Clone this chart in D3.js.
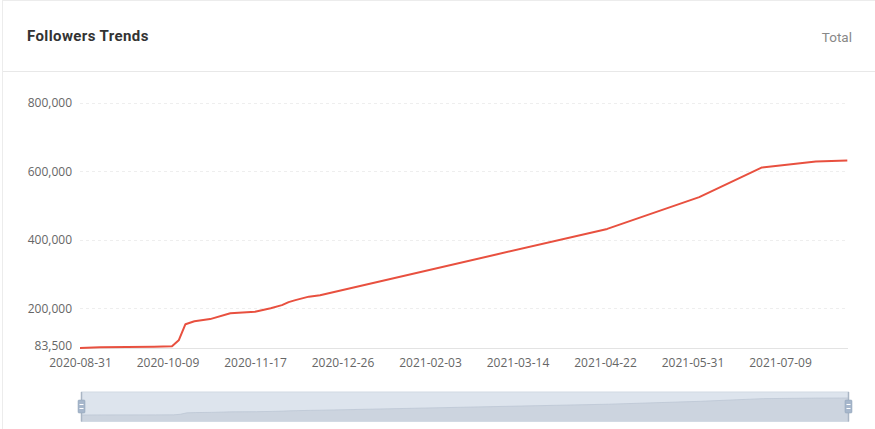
<!DOCTYPE html>
<html>
<head>
<meta charset="utf-8">
<script src="https://cdn.jsdelivr.net/npm/d3@7/dist/d3.min.js"></script>
<style>
  html, body { margin: 0; padding: 0; background: #fff; }
  svg { display: block; }
</style>
</head>
<body>
<svg id="chart" width="875" height="429"></svg>
<script>
// ---- data ----
const dates = ["2020-08-31","2020-09-09","2020-10-03","2020-10-11","2020-10-14","2020-10-17","2020-10-21","2020-10-28","2020-11-06","2020-11-17","2020-11-24","2020-11-29","2020-12-02","2020-12-05","2020-12-11","2020-12-16","2021-04-23","2021-06-03","2021-07-01","2021-07-25","2021-08-08"];
const followers = [83500,86000,87500,88500,106000,153000,161800,168000,185300,189700,200000,208800,217600,223500,233700,238000,431800,524800,611600,629200,632200];
const xTickLabels = ["2020-08-31","2020-10-09","2020-11-17","2020-12-26","2021-02-03","2021-03-14","2021-04-22","2021-05-31","2021-07-09"];
const yTicks = [83500,200000,400000,600000,800000];
const title = "Followers Trends";
const modeLabel = "Total";

const parse = d3.timeParse("%Y-%m-%d");
const svg = d3.select("#chart");

// card frame
svg.append("rect").attr("x",2.5).attr("y",0.5).attr("width",880).attr("height",440)
  .attr("fill","#fff").attr("stroke","#ececec");
svg.append("line").attr("x1",3).attr("x2",875).attr("y1",71.5).attr("y2",71.5).attr("stroke","#e8e8e8");
svg.append("text").attr("x",27).attr("y",41).text(title)
  .attr("font-family","Roboto, sans-serif").attr("font-weight","bold").attr("font-size",15)
  .attr("letter-spacing",0.4).attr("fill","#333");
svg.append("text").attr("x",852).attr("y",42).attr("text-anchor","end").text(modeLabel)
  .attr("font-family","Roboto, sans-serif").attr("font-size",13.5).attr("fill","#888");

// scales
const x = d3.scaleTime().domain([parse("2020-08-31"), parse("2021-08-08")]).range([80, 847.3]);
const y = d3.scaleLinear().domain([83500, 800000]).range([348, 103]);

const fmt = d3.format(",");
// grid
const g = svg.append("g");
g.selectAll("line.grid").data(yTicks.slice(1)).join("line")
  .attr("x1",80).attr("x2",848)
  .attr("y1",d=>Math.round(y(d))+0.5).attr("y2",d=>Math.round(y(d))+0.5)
  .attr("stroke","#eeeeee").attr("stroke-dasharray","3,3");

// y axis labels
const yAxis = d3.axisLeft(y).tickValues(yTicks).tickFormat(fmt).tickSize(0).tickPadding(8);
const ya = svg.append("g").attr("transform","translate(80,0)").call(yAxis);
ya.select(".domain").remove();
ya.selectAll("text").attr("font-family","'Open Sans', sans-serif").attr("font-size",12).attr("fill","#666");
ya.selectAll(".tick").filter(d=>d===yTicks[0]).select("text").attr("dy","0.1em");

// x axis
const xAxis = d3.axisBottom(x).tickValues(xTickLabels.map(parse)).tickFormat(d3.timeFormat("%Y-%m-%d")).tickSize(0).tickPadding(10);
const xa = svg.append("g").attr("transform","translate(0,348.5)").call(xAxis);
xa.select(".domain").attr("stroke","#e3e3e3").attr("d","M80,0H848");
xa.selectAll("text").attr("font-family","'Open Sans', sans-serif").attr("font-size",12).attr("fill","#666");

// line
const pts = dates.map((d,i)=>({d:parse(d), v:followers[i]}));
svg.append("path").datum(pts)
  .attr("fill","none").attr("stroke","#e8503f").attr("stroke-width",2).attr("stroke-linejoin","round")
  .attr("d", d3.line().x(p=>x(p.d)).y(p=>y(p.v)));

// data zoom slider
const sx0 = 81.5, sx1 = 848.5, sy0 = 392, sy1 = 421.5;
svg.append("rect").attr("x",sx0).attr("y",sy0).attr("width",sx1-sx0).attr("height",sy1-sy0)
  .attr("fill","#dde4ed");
const xs = d3.scaleTime().domain(x.domain()).range([sx0, sx1]);
const ys = d3.scaleLinear().domain([83500, 632200]).range([415, 398]);
svg.append("path").datum(pts)
  .attr("fill","#ccd4df").attr("stroke","#bcc7d4").attr("stroke-width",0.8)
  .attr("d", d3.area().x(p=>xs(p.d)).y0(sy1).y1(p=>ys(p.v)));
svg.append("rect").attr("x",sx0).attr("y",sy0).attr("width",sx1-sx0).attr("height",sy1-sy0)
  .attr("fill","none").attr("stroke","#d2dae4");
[sx0, sx1].forEach(hx=>{
  svg.append("line").attr("x1",hx).attr("x2",hx).attr("y1",sy0).attr("y2",sy1).attr("stroke","#a9b5c4").attr("stroke-width",1.5);
  svg.append("rect").attr("x",hx-3.5).attr("y",400).attr("width",7).attr("height",13).attr("rx",1)
    .attr("fill","#a7b7cc").attr("stroke","#8fa0b5").attr("stroke-width",0.5);
  [404.5,408.5].forEach(ly=>svg.append("line").attr("x1",hx-2).attr("x2",hx+2).attr("y1",ly).attr("y2",ly).attr("stroke","#fff"));
});
</script>
</body>
</html>
